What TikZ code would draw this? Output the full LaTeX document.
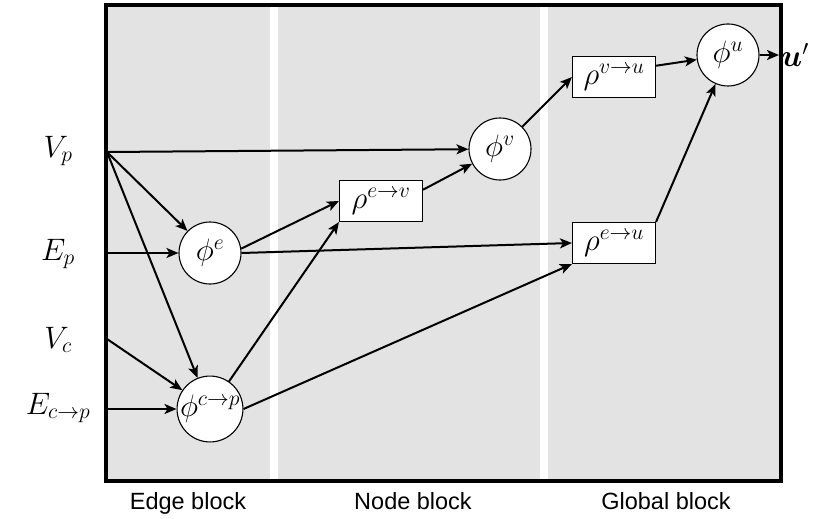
\RequirePackage{fix-cm}
\documentclass[tikz,border=0pt]{standalone}
\usepackage{amsmath}
\usepackage{fontspec}
\setsansfont{Liberation Sans}
\usepackage{xcolor}
\usepackage{tikz}
\usetikzlibrary{positioning, arrows.meta}

\definecolor{panelgray}{RGB}{227,227,227}
\newcommand{\mathbig}{\fontsize{31}{36}\selectfont}
\newcommand{\blocktxt}{\sffamily\fontsize{23.5}{28}\selectfont}

\begin{document}
\begin{tikzpicture}[x=1pt, y=-1pt,
    fn/.style={draw, circle, fill=white, line width=1.1pt, minimum size=62pt, inner sep=0pt, font=\mathbig},
    agg/.style={draw, rectangle, fill=white, line width=1.1pt, minimum width=83pt, minimum height=41pt, inner sep=0pt, font=\mathbig},
    inp/.style={font=\mathbig, inner sep=0pt},
    blk/.style={font=\blocktxt, anchor=base},
    arr/.style={-{Stealth[length=12pt, width=10pt, inset=3pt]}, line width=2pt}]
  \useasboundingbox (0,0) rectangle (830,519);

  % blocks
  \fill[panelgray] (107,5) rectangle (270,481);
  \fill[panelgray] (278,5) rectangle (540,481);
  \fill[panelgray] (548,5) rectangle (781,481);
  \draw[line width=3.2pt] (106,5) rectangle (781,481);
  \node[blk] (eb) at (188,509) {Edge block};
  \node[blk] (nb) at (413,509) {Node block};
  \node[blk] (gb) at (666,509) {Global block};

  % inputs
  \node[inp] (Vp) at (58,151) {$V_p$};
  \node[inp] (Ep) at (58,254) {$E_p$};
  \node[inp] (Vc) at (58,340) {$V_c$};
  \node[inp] (Ecp) at (58,408) {$E_{c\to p}$};
  \coordinate (vp) at (107,152);
  \coordinate (ep) at (107,253);
  \coordinate (vc) at (107,339);
  \coordinate (ecp) at (107,409);

  % functions
  \node[fn] (phie) at (210,253) {$\phi^e$};
  \node[fn] (phicp) at (210,409) {$\phi^{c\to p}$};
  \node[agg] (rhoev) at (381,201) {$\rho^{e\to v}$};
  \node[fn] (phiv) at (500,149) {$\phi^v$};
  \node[agg] (rhovu) at (614,77) {$\rho^{v\to u}$};
  \node[agg] (rhoeu) at (614,243) {$\rho^{e\to u}$};
  \node[fn] (phiu) at (728,55) {$\phi^u$};
  \node[inp, anchor=west, inner sep=2pt] (uout) at (779,55) {$\boldsymbol{u}'$};

  % edge block
  \draw[arr] (vp) -- (phiv);
  \draw[arr] (vp) -- (phie);
  \draw[arr] (vp) -- (phicp);
  \draw[arr] (ep) -- (phie);
  \draw[arr] (vc) -- (phicp);
  \draw[arr] (ecp) -- (phicp);

  % node block
  \draw[arr] (phie.8) -- (rhoev.west);
  \draw[arr] (phie.east) -- (rhoeu.west);
  \draw[arr] (phicp) -- (rhoev.south west);
  \draw[arr] (phicp.east) -- (rhoeu.south west);
  \draw[arr] (rhoev.15) -- (phiv);

  % global block
  \draw[arr] (phiv) -- (rhovu.west);
  \draw[arr] (rhovu.15) -- (phiu);
  \draw[arr] (rhoeu.north east) -- (phiu);
  \draw[arr] (phiu) -- (uout);
\end{tikzpicture}
\end{document}
